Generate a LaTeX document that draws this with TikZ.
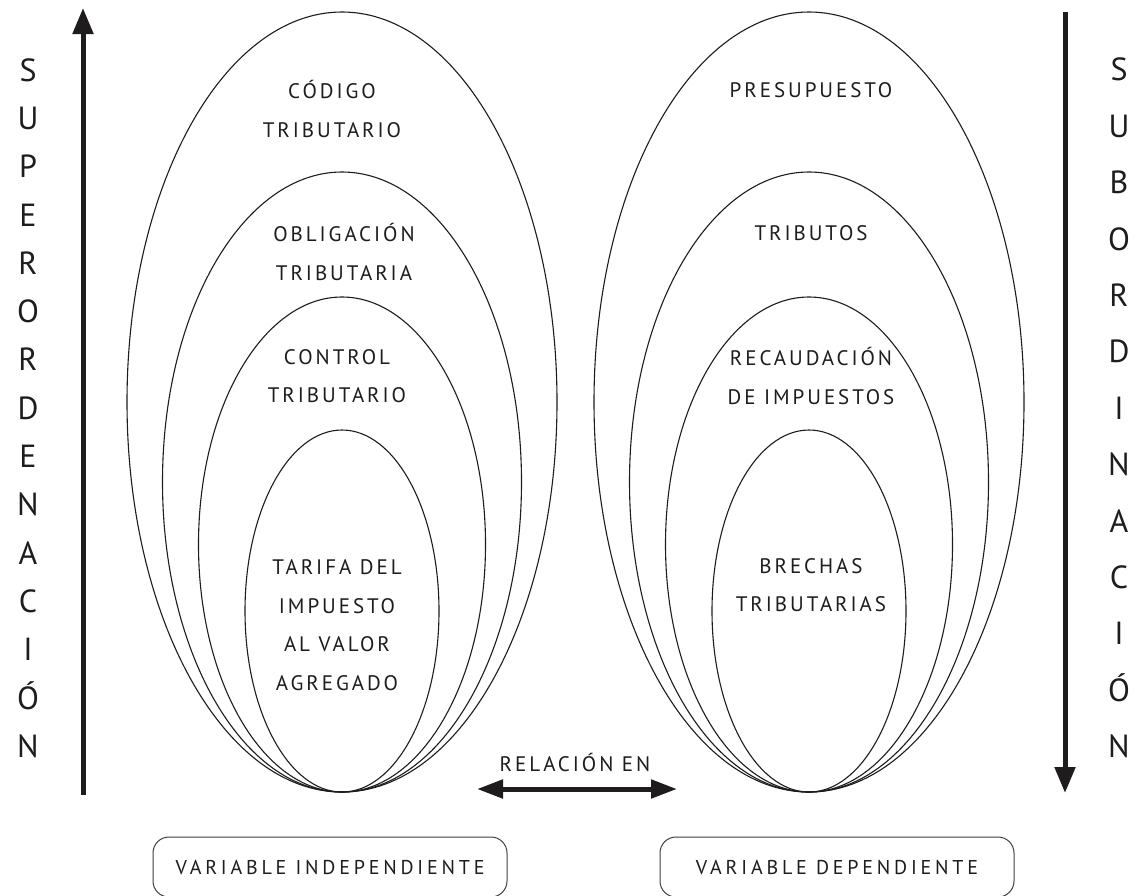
\documentclass[tikz,border=0pt]{standalone}
\usepackage{fontspec}
\setmainfont{PT Sans}
\newfontfamily\spfont[LetterSpace=14]{PT Sans}
\newfontfamily\boxfont[LetterSpace=19]{PT Sans}
\usetikzlibrary{arrows.meta}
\definecolor{ink}{HTML}{1E1C1D}
\tikzset{
  oval/.style={draw=ink, line width=1.1pt},
  lbl/.style={align=center, text=ink, font=\spfont\fontsize{21}{38.5}\selectfont, inner sep=0pt},
  sidel/.style={align=center, text=ink, inner sep=0pt, font=\fontsize{32}{48.3}\selectfont},
  sider/.style={align=center, text=ink, inner sep=0pt, font=\fontsize{32}{56.4}\selectfont},
  bigarrow/.style={line width=5pt, draw=ink, -{Triangle[length=26pt,width=20pt]}},
  botharrow/.style={line width=5pt, draw=ink, {Triangle[length=26pt,width=18pt]}-{Triangle[length=26pt,width=18pt]}},
  varbox/.style={draw=ink!85, line width=1pt, rounded corners=16pt, minimum width=354pt, minimum height=60pt, align=center, text=ink, font=\boxfont\fontsize{20}{22}\selectfont, inner sep=0pt},
}
\begin{document}
\begin{tikzpicture}[x=1pt,y=-1pt]
\useasboundingbox (0,0) rectangle (1145,895);
\fill[white] (0,0) rectangle (1145,895);

% left group of ovals
\draw[oval] (342,402) ellipse [x radius=215, y radius=390];
\draw[oval] (342,482) ellipse [x radius=179.5, y radius=310];
\draw[oval] (342,544.5) ellipse [x radius=143.5, y radius=247.5];
\draw[oval] (342,611) ellipse [x radius=97, y radius=181];

% right group of ovals
\draw[oval] (809,402) ellipse [x radius=215, y radius=390];
\draw[oval] (809,482) ellipse [x radius=179.5, y radius=310];
\draw[oval] (809,544.5) ellipse [x radius=143.5, y radius=247.5];
\draw[oval] (809,611) ellipse [x radius=97, y radius=181];

% labels left
\node[lbl] (codigo) at (332,109) {CÓDIGO\\TRIBUTARIO};
\node[lbl] (oblig) at (344,252) {OBLIGACIÓN\\TRIBUTARIA};
\node[lbl] (control) at (337,376) {CONTROL\\TRIBUTARIO};
\node[lbl] (tarifa) at (337,625) {TARIFA DEL\\IMPUESTO\\AL VALOR\\AGREGADO};

% labels right
\node[lbl] (presup) at (811,90) {PRESUPUESTO};
\node[lbl] (tributos) at (811,233) {TRIBUTOS};
\node[lbl] (recaud) at (811,376) {RECAUDACIÓN\\DE IMPUESTOS};
\node[lbl] (brechas) at (811,585) {BRECHAS\\TRIBUTARIAS};

% side words
\node[sidel] (super) at (28,408) {S\\U\\P\\E\\R\\O\\R\\D\\E\\N\\A\\C\\I\\Ó\\N};
\node[sider] (sub) at (1119,408) {S\\U\\B\\O\\R\\D\\I\\N\\A\\C\\I\\Ó\\N};

% vertical arrows
\coordinate (lb) at (83,795);
\coordinate (lt) at (83,8);
\coordinate (rt) at (1065,12);
\coordinate (rb) at (1065,793);
\draw[bigarrow] (lb) -- (lt);
\draw[bigarrow] (rt) -- (rb);

% relation
\node[lbl] (rel) at (575,762) {RELACIÓN EN};
\coordinate (ra) at (477,789);
\coordinate (rz) at (677,789);
\draw[botharrow] (ra) -- (rz);

% variable boxes
\node[varbox] (vi) at (330,867) {VARIABLE INDEPENDIENTE};
\node[varbox] (vd) at (837,867) {VARIABLE DEPENDIENTE};
\end{tikzpicture}
\end{document}
